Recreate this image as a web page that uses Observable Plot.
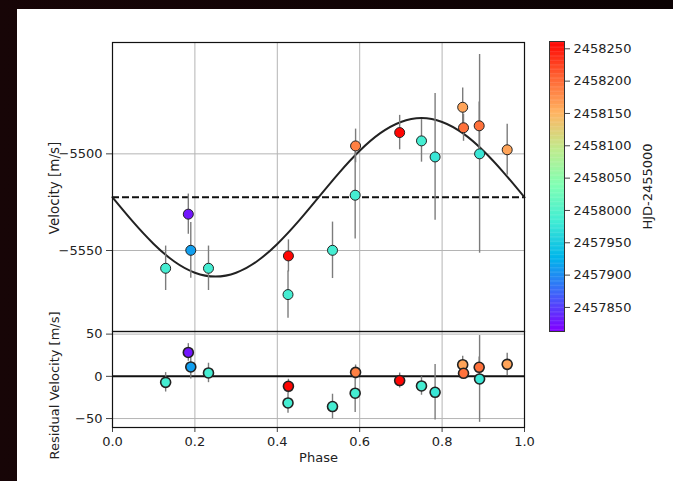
<!DOCTYPE html>
<html><head><meta charset="utf-8">
<script src="https://cdn.jsdelivr.net/npm/d3@7"></script>
<script src="https://cdn.jsdelivr.net/npm/@observablehq/plot@0.6"></script>
<style>
html,body{margin:0;padding:0;background:#0a0203;}
#page{position:relative;width:673px;height:481px;overflow:hidden;background:linear-gradient(90deg,#170507,#0b0203);}
#paper{position:absolute;left:17px;top:9px;right:0;bottom:0;background:#fff;}
</style></head><body><div id="page"><div id="paper"></div></div>
<script>
// ---- data ----
const phase    = [0.129, 0.184, 0.190, 0.233, 0.427, 0.426, 0.534, 0.590, 0.589, 0.697, 0.750, 0.783, 0.850, 0.852, 0.890, 0.891, 0.958];
const velocity = [-5559.2, -5531.2, -5549.9, -5559.2, -5552.8, -5572.8, -5549.9, -5495.9, -5521.4, -5489.0, -5493.3, -5501.6, -5475.9, -5486.5, -5485.5, -5500.0, -5497.9];
const velErr   = [11.5, 10.4, 14.4, 11.5, 8.3, 12.2, 14.6, 8.7, 22.7, 8.9, 11.0, 32.8, 9.9, 7.0, 12.3, 51.4, 13.2];
const residual = [-7.1, 28.3, 11.1, 4.0, -11.8, -31.5, -35.8, 4.7, -20.0, -5.0, -11.4, -18.9, 13.8, 3.6, 10.7, -3.1, 14.2];
const hjd      = [2457985, 2457825, 2457910, 2457985, 2458258, 2457985, 2457985, 2458185, 2457985, 2458258, 2457985, 2457975, 2458160, 2458195, 2458195, 2457975, 2458160];

const modelPhase = [0, 0.05, 0.1, 0.15, 0.2, 0.25, 0.3, 0.35, 0.4, 0.45, 0.5, 0.55, 0.6, 0.65, 0.7, 0.75, 0.8, 0.85, 0.9, 0.95, 1.0];
const modelVel   = [-5522.5, -5535.2, -5546.6, -5555.7, -5561.5, -5563.5, -5561.5, -5555.7, -5546.6, -5535.2, -5522.5, -5509.8, -5498.4, -5489.3, -5483.5, -5481.5, -5483.5, -5489.3, -5498.4, -5509.8, -5522.5];
const systemicVel = -5522.5;

const velTicks   = [-5500, -5550];
const resTicks   = [50, 0, -50];
const phaseTicks = [0, 0.2, 0.4, 0.6, 0.8, 1.0];
const cbTicks    = [2457850, 2457900, 2457950, 2458000, 2458050, 2458100, 2458150, 2458200, 2458250];
const cbDomain   = [2457812.8, 2458261.3];
const rainbowStops = ["#8000ff", "#4062fa", "#00b5eb", "#40ecd4", "#80ffb4", "#c0eb8d", "#ffb462", "#ff6232", "#ff0000"];

// ---- build ----
const obs = phase.map((p, i) => ({phase: p, v: velocity[i], e: velErr[i], r: residual[i], t: hjd[i]}));
const model = modelPhase.map((p, i) => ({phase: p, v: modelVel[i]}));
const colorScale = {type: "linear", domain: cbDomain, interpolate: d3.piecewise(d3.interpolateRgb, rainbowStops)};
const minus = d => d < 0 ? "\u2212" + Math.abs(d) : String(d);
const font = "DejaVu Sans";
const baseStyle = {position: "absolute", left: "0px", top: "0px", background: "transparent", fontFamily: font, fontSize: "13px", overflow: "visible", color: "#222"};
const grid = {stroke: "#b4b4b4", strokeOpacity: 1, strokeWidth: 1};
const page = document.getElementById("page");

const velPlot = Plot.plot({
  width: 673, height: 481,
  marginLeft: 112, marginRight: 149, marginTop: 42, marginBottom: 150,
  style: baseStyle,
  x: {domain: [0, 1], axis: null},
  y: {domain: [-5591.9, -5442.4], axis: null},
  color: colorScale,
  marks: [
    Plot.gridX(phaseTicks.slice(1, 5), grid),
    Plot.gridY(velTicks, grid),
    Plot.ruleY([systemicVel], {stroke: "#111", strokeWidth: 2, strokeDasharray: "7,3"}),
    Plot.line(model, {x: "phase", y: "v", stroke: "#222", strokeWidth: 2, curve: "natural"}),
    Plot.ruleX(obs, {x: "phase", y1: d => d.v - d.e, y2: d => d.v + d.e, stroke: "#7c7c7c", strokeWidth: 1.4}),
    Plot.dot(obs, {x: "phase", y: "v", fill: "t", r: 5, stroke: "#222", strokeWidth: 1}),
    Plot.axisY(velTicks, {tickSize: 6, tickPadding: 4, tickFormat: minus, fontSize: 13, label: null, stroke: "#444", fill: "#222"}),
    Plot.frame({stroke: "#111", strokeWidth: 1.2}),
    Plot.text(["Velocity [m/s]"], {frameAnchor: "left", textAnchor: "middle", rotate: -90, dx: -58, dy: 1, fontSize: 13.5, fill: "#222"})
  ]
});
page.appendChild(velPlot);

const resPlot = Plot.plot({
  width: 673, height: 481,
  marginLeft: 112, marginRight: 149, marginTop: 331, marginBottom: 54,
  style: baseStyle,
  x: {domain: [0, 1], axis: null},
  y: {domain: [-60.6, 53.1], axis: null},
  color: colorScale,
  marks: [
    Plot.gridX(phaseTicks.slice(1, 5), grid),
    Plot.gridY([50, -50], grid),
    Plot.ruleY([0], {stroke: "#111", strokeWidth: 2}),
    Plot.ruleX(obs, {x: "phase", y1: d => d.r - d.e, y2: d => d.r + d.e, stroke: "#7c7c7c", strokeWidth: 1.4}),
    Plot.dot(obs, {x: "phase", y: "r", fill: "t", r: 5, stroke: "#222", strokeWidth: 1.6}),
    Plot.axisY(resTicks, {tickSize: 6, tickPadding: 4, tickFormat: minus, fontSize: 13, label: null, stroke: "#444", fill: "#222"}),
    Plot.axisX(phaseTicks, {tickSize: 5, tickPadding: 4, tickFormat: d3.format(".1f"), fontSize: 13, label: null, stroke: "#444", fill: "#222"}),
    Plot.frame({stroke: "#111", strokeWidth: 1.2}),
    Plot.text(["Residual Velocity [m/s]"], {frameAnchor: "left", textAnchor: "middle", rotate: -90, dx: -58, dy: 6, fontSize: 13, fill: "#222"}),
    Plot.text(["Phase"], {frameAnchor: "bottom", dy: 34, fontSize: 13, fill: "#222"})
  ]
});
page.appendChild(resPlot);

const cbStep = 2;
const cbSteps = d3.range(cbDomain[0], cbDomain[1], cbStep);
const cbPlot = Plot.plot({
  width: 673, height: 481,
  marginLeft: 549, marginRight: 109, marginTop: 41, marginBottom: 150,
  style: baseStyle,
  x: {domain: [0, 1], axis: null},
  y: {domain: cbDomain, axis: null},
  color: colorScale,
  marks: [
    Plot.rect(cbSteps, {x1: () => 0, x2: () => 1, y1: d => d, y2: d => Math.min(d + cbStep * 1.3, cbDomain[1]), fill: d => d}),
    Plot.frame({stroke: "#333", strokeWidth: 1}),
    Plot.axisY(cbTicks, {anchor: "right", tickSize: 5, tickPadding: 4, tickFormat: d => String(d), fontSize: 13, label: null, stroke: "#444", fill: "#222"}),
    Plot.text(["HJD-2455000"], {frameAnchor: "right", textAnchor: "middle", rotate: -90, dx: 83, fontSize: 13, fill: "#222"})
  ]
});
page.appendChild(cbPlot);
</script>
</body></html>
